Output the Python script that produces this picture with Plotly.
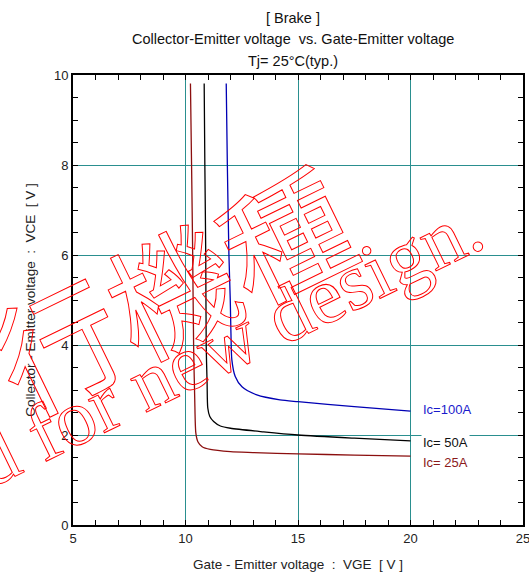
import plotly.graph_objects as go

# ---- data ----
vge_25 = [10.22, 10.27, 10.32, 10.36, 10.41, 10.46, 10.55, 10.74, 11.10, 12.0, 13.0, 15.0, 17.5, 20.0]
vce_25 = [9.81, 8.0, 6.0, 4.0, 2.80, 2.04, 1.85, 1.74, 1.68, 1.63, 1.61, 1.58, 1.555, 1.53]

vge_50 = [10.83, 10.86, 10.90, 10.92, 10.96, 10.99, 11.08, 11.25, 11.55, 12.0, 13.47, 15.0, 17.5, 20.0]
vce_50 = [9.81, 8.0, 6.0, 4.0, 3.15, 2.60, 2.41, 2.30, 2.20, 2.15, 2.07, 2.0, 1.93, 1.87]

vge_100 = [11.81, 11.86, 11.93, 11.99, 12.02, 12.06, 12.21, 12.51, 13.17, 14.2, 15.0, 17.5, 20.0]
vce_100 = [9.81, 8.0, 6.0, 5.0, 4.26, 3.67, 3.30, 3.07, 2.89, 2.78, 2.74, 2.63, 2.53]

series_names = ["Ic= 25A", "Ic= 50A", "Ic=100A"]
label_y = [1.38, 1.83, 2.56]
label_x = 20.45

x_ticks = [5, 10, 15, 20, 25]
y_ticks = [0, 2, 4, 6, 8, 10]

title_lines = ["[ Brake ]",
               "Collector-Emitter voltage\u00a0\u00a0vs. Gate-Emitter voltage",
               "Tj= 25°C(typ.)"]
x_title = "Gate - Emitter voltage\u00a0\u00a0:\u00a0\u00a0VGE\u00a0\u00a0[ V ]"
y_title = "Collector - Emitter voltage\u00a0\u00a0:\u00a0\u00a0VCE\u00a0\u00a0[ V ]"
watermark_jp = "行機種"
watermark_en = "Not recommended for new design."

colors = ["#8b0f0f", "#000000", "#0000b4"]
label_colors = ["#8b1a1a", "#111111", "#1a1acc"]
FONT = "Liberation Sans, Arial, sans-serif"
GRID = "#2a8f8f"

fig = go.Figure()
for xs, ys, c in [(vge_25, vce_25, colors[0]), (vge_50, vce_50, colors[1]), (vge_100, vce_100, colors[2])]:
    fig.add_trace(go.Scatter(x=xs, y=ys, mode="lines",
                             line=dict(color=c, width=1.3, shape="spline", smoothing=0.7),
                             showlegend=False, hoverinfo="skip"))

for name, yv, c in zip(series_names, label_y, label_colors):
    fig.add_annotation(x=label_x, y=yv, xref="x", yref="y", text=name, showarrow=False,
                       xanchor="left", yanchor="middle", font=dict(family=FONT, size=13, color=c),
                       bgcolor="white" if name == "Ic= 50A" else None, borderpad=1)

# title lines
for line, yv in zip(title_lines, [1.1267, 1.0789, 1.0311]):
    fig.add_annotation(x=0.489, y=yv, xref="paper", yref="paper", text=line, showarrow=False,
                       xanchor="center", yanchor="middle",
                       font=dict(family=FONT, size=14.5, color="#111"))

# watermark (outlined via post script)
fig.add_annotation(x=0.214, y=0.532, xref="paper", yref="paper", text=watermark_jp, showarrow=False,
                   textangle=-26, xanchor="center", yanchor="middle",
                   font=dict(family="Noto Sans CJK JP", size=126, color="rgba(255,0,0,0.25)"))
fig.add_annotation(x=-0.209, y=0.136, xref="paper", yref="paper", text=watermark_en, showarrow=False,
                   textangle=-26, xanchor="center", yanchor="middle",
                   font=dict(family="Liberation Serif", size=80, color="rgba(255,0,0,0.25)"))

axis_common = dict(showline=True, linecolor="black", linewidth=2, mirror="ticks",
                   ticks="inside", ticklen=5, tickwidth=1, tickcolor="black",
                   showgrid=True, gridcolor=GRID, gridwidth=1, zeroline=False, automargin=False,
                   ticklabeloverflow="allow",
                   tickfont=dict(family=FONT, size=13, color="#222"))

fig.update_xaxes(range=[5, 25], tickvals=x_ticks,
                 minor=dict(dtick=1, ticks="inside", ticklen=5, tickcolor="black", showgrid=False),
                 title=dict(text=x_title, font=dict(family=FONT, size=13.5, color="#222")),
                 **axis_common)
fig.update_yaxes(range=[0, 10], tickvals=y_ticks,
                 minor=dict(dtick=0.5, ticks="inside", ticklen=5, tickcolor="black", showgrid=False),
                 title=dict(text=y_title, font=dict(family=FONT, size=13.5, color="#222")),
                 **axis_common)

fig.update_layout(
    width=529, height=582,
    margin=dict(l=73, r=6, t=75, b=57),
    paper_bgcolor="white", plot_bgcolor="white",
)

post = """
document.body.style.margin = '0';
document.body.style.padding = '0';
document.body.style.overflow = 'hidden';
var gd = document.getElementById('{plot_id}');
function outline(){
  gd.querySelectorAll('.annotation-text').forEach(function(t){
    var s = t.textContent;
    if (s.indexOf('design') >= 0 || s.indexOf('機') >= 0) {
      t.style.fill = 'none';
      t.style.stroke = 'red';
      t.style.strokeWidth = '1px';
    }
  });
}
outline();
gd.on('plotly_afterplot', outline);
"""
fig.write_html("out.html", post_script=post, config={"displayModeBar": False})
